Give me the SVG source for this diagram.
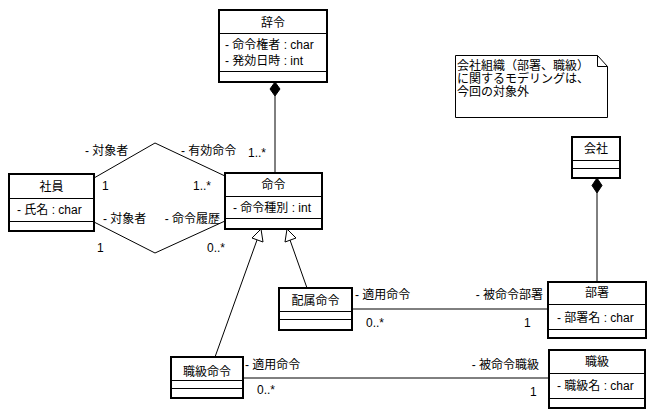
<svg xmlns="http://www.w3.org/2000/svg" width="656" height="417" viewBox="0 0 656 417">
<style>
text { font-family: "Liberation Sans", "Noto Sans CJK JP", sans-serif; font-size: 12px; fill: #000; }
.t { text-anchor: middle; }
.box { fill: #fff; stroke: #000; stroke-width: 2; }
.div { stroke: #000; stroke-width: 1; fill: none; }
.ln { stroke: #000; stroke-width: 1; fill: none; }
.tri { fill: #fff; stroke: #000; stroke-width: 1; }
.dia { fill: #000; stroke: #000; stroke-width: 1; }
</style>
<rect width="656" height="417" fill="#fff"/>
<g id="connectors">
  <line class="ln" x1="275" y1="96" x2="275" y2="173"/>
  <polygon class="dia" points="275,82 280,89 275,96 270,89"/>
  <polyline class="ln" points="94,178 155,143 225,176"/>
  <polyline class="ln" points="94,222 155,253 225,221"/>
  <line class="ln" x1="215" y1="357" x2="257" y2="240"/>
  <polygon class="tri" points="261,229 263,242 252,238"/>
  <line class="ln" x1="307" y1="288" x2="290" y2="240"/>
  <polygon class="tri" points="287,229 296,238 285,242"/>
  <line class="ln" x1="352" y1="309" x2="548" y2="309"/>
  <line class="ln" x1="243" y1="378" x2="549" y2="378"/>
  <line class="ln" x1="597" y1="193" x2="597" y2="282"/>
  <polygon class="dia" points="597,178 602,185.5 597,193 592,185.5"/>
  <text x="85" y="155">- 対象者</text>
  <text x="181" y="155">- 有効命令</text>
  <text x="248" y="157">1..*</text>
  <text x="102" y="190">1</text>
  <text x="193" y="190">1..*</text>
  <text x="103" y="223">- 対象者</text>
  <text x="220" y="223" text-anchor="end">- 命令履歴</text>
  <text x="97" y="252">1</text>
  <text x="207" y="252">0..*</text>
  <text x="355" y="299">- 適用命令</text>
  <text x="543" y="299" text-anchor="end">- 被命令部署</text>
  <text x="366" y="327">0..*</text>
  <text x="524" y="327">1</text>
  <text x="245" y="369">- 適用命令</text>
  <text x="539" y="369" text-anchor="end">- 被命令職級</text>
  <text x="257" y="394">0..*</text>
  <text x="530" y="396">1</text>
</g>
<g id="jirei">
  <rect class="box" x="219" y="10" width="108" height="72"/>
  <line class="div" x1="219" y1="33.5" x2="327" y2="33.5"/>
  <line class="div" x1="219" y1="71.5" x2="327" y2="71.5"/>
  <text class="t" x="273" y="27">辞令</text>
  <text x="225" y="49">- 命令権者 : char</text>
  <text x="225" y="65">- 発効日時 : int</text>
</g>
<g id="meirei">
  <rect class="box" x="225" y="173" width="97" height="56"/>
  <line class="div" x1="225" y1="196.5" x2="322" y2="196.5"/>
  <line class="div" x1="225" y1="218.5" x2="322" y2="218.5"/>
  <text class="t" x="273.5" y="189">命令</text>
  <text x="233" y="212">- 命令種別 : int</text>
</g>
<g id="shain">
  <rect class="box" x="9" y="174" width="85" height="57"/>
  <line class="div" x1="9" y1="198.5" x2="94" y2="198.5"/>
  <line class="div" x1="9" y1="221.5" x2="94" y2="221.5"/>
  <text class="t" x="51.5" y="191">社員</text>
  <text x="17" y="214">- 氏名 : char</text>
</g>
<g id="note">
  <path d="M455.5,55.5 H597.5 L607.5,66.5 V117.5 H455.5 Z" fill="#fff" stroke="#000" stroke-width="1"/>
  <path d="M597.5,55.5 V66.5 H607.5" fill="none" stroke="#000" stroke-width="1"/>
  <text x="457" y="70">会社組織（部署、職級）</text>
  <text x="457" y="83">に関するモデリングは、</text>
  <text x="457" y="96">今回の対象外</text>
</g>
<g id="kaisha">
  <rect class="box" x="572" y="137" width="48" height="41"/>
  <line class="div" x1="572" y1="160.5" x2="620" y2="160.5"/>
  <line class="div" x1="572" y1="168.5" x2="620" y2="168.5"/>
  <text class="t" x="596" y="153">会社</text>
</g>
<g id="busho">
  <rect class="box" x="548" y="282" width="98" height="56"/>
  <line class="div" x1="548" y1="304.5" x2="646" y2="304.5"/>
  <line class="div" x1="548" y1="329.5" x2="646" y2="329.5"/>
  <text class="t" x="597" y="297">部署</text>
  <text x="557" y="322">- 部署名 : char</text>
</g>
<g id="haizoku">
  <rect class="box" x="279" y="288" width="73" height="42"/>
  <line class="div" x1="279" y1="311.5" x2="352" y2="311.5"/>
  <line class="div" x1="279" y1="319.5" x2="352" y2="319.5"/>
  <text class="t" x="315.5" y="305">配属命令</text>
</g>
<g id="shokyu-meirei">
  <rect class="box" x="171" y="357" width="72" height="41"/>
  <line class="div" x1="171" y1="380.5" x2="243" y2="380.5"/>
  <line class="div" x1="171" y1="388.5" x2="243" y2="388.5"/>
  <text class="t" x="207" y="376">職級命令</text>
</g>
<g id="shokyu">
  <rect class="box" x="549" y="350" width="96" height="58"/>
  <line class="div" x1="549" y1="373.5" x2="645" y2="373.5"/>
  <line class="div" x1="549" y1="398.5" x2="645" y2="398.5"/>
  <text class="t" x="597" y="366">職級</text>
  <text x="557" y="390">- 職級名 : char</text>
</g>
</svg>
